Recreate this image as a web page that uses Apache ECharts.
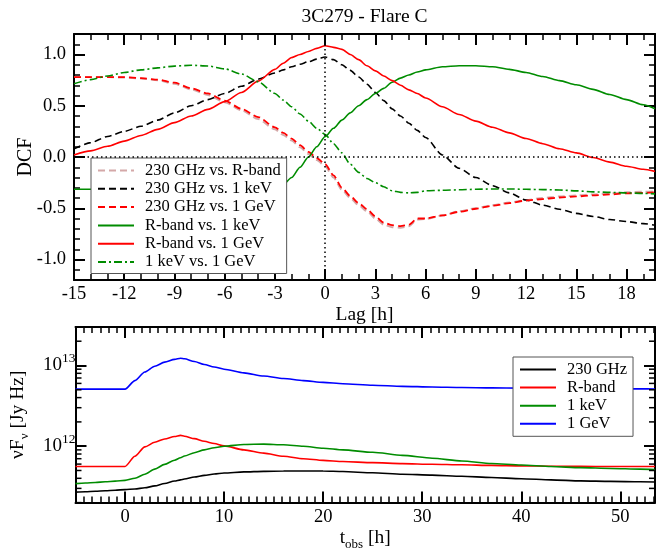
<!DOCTYPE html>
<html><head><meta charset="utf-8">
<script src="https://cdn.jsdelivr.net/npm/echarts@6/dist/echarts.min.js"></script>
<style>html,body{margin:0;padding:0;background:#fff}#c{width:660px;height:552px}</style>
</head><body><div id="c"></div>
<script>
// ---------- data: top panel (DCF vs lag) ----------
const lag = [-15,-14,-13,-12,-11,-10,-9,-8,-7,-6,-5,-4,-3,-2.5,-2,-1.5,-1,-0.5,0,0.5,1,1.5,2,2.5,3,3.5,4,4.5,5,5.5,6,7,8,9,10,11,12,13,14,15,16,17,18,19,19.7];
const dcf230vsR = [0.78,0.78,0.78,0.775,0.765,0.75,0.715,0.66,0.605,0.535,0.455,0.37,0.27,0.215,0.16,0.095,0.03,-0.03,-0.09,-0.2,-0.32,-0.4,-0.47,-0.53,-0.6,-0.66,-0.685,-0.69,-0.675,-0.61,-0.605,-0.57,-0.53,-0.5,-0.47,-0.445,-0.42,-0.4,-0.385,-0.375,-0.365,-0.355,-0.345,-0.34,-0.335];
const dcf230vsKeV = [0.08,0.14,0.2,0.25,0.3,0.36,0.43,0.5,0.56,0.62,0.69,0.76,0.82,0.85,0.88,0.905,0.93,0.955,0.975,0.95,0.9,0.845,0.78,0.71,0.63,0.55,0.47,0.4,0.33,0.26,0.19,0.02,-0.11,-0.2,-0.28,-0.35,-0.42,-0.47,-0.51,-0.55,-0.58,-0.61,-0.63,-0.65,-0.665];
const dcf230vsGeV = [0.78,0.78,0.78,0.78,0.77,0.755,0.725,0.67,0.62,0.55,0.47,0.39,0.29,0.235,0.18,0.115,0.05,-0.01,-0.07,-0.18,-0.3,-0.38,-0.45,-0.51,-0.58,-0.64,-0.665,-0.675,-0.66,-0.6,-0.6,-0.57,-0.535,-0.505,-0.475,-0.45,-0.425,-0.41,-0.395,-0.385,-0.375,-0.365,-0.355,-0.35,-0.345];
const dcfRvsKeV = [-0.315,-0.315,-0.314,-0.313,-0.312,-0.312,-0.311,-0.31,-0.31,-0.309,-0.308,-0.306,-0.3,-0.27,-0.2,-0.1,0.0,0.1,0.2,0.28,0.36,0.43,0.5,0.56,0.62,0.67,0.73,0.77,0.8,0.83,0.85,0.88,0.89,0.89,0.88,0.855,0.825,0.785,0.745,0.705,0.66,0.61,0.56,0.51,0.47];
const dcfRvsGeV = [0.02,0.06,0.105,0.155,0.21,0.27,0.335,0.4,0.465,0.54,0.63,0.74,0.855,0.915,0.97,1.0,1.03,1.06,1.085,1.07,1.05,1.0,0.95,0.89,0.84,0.79,0.745,0.7,0.655,0.62,0.575,0.49,0.415,0.35,0.29,0.235,0.18,0.13,0.08,0.04,-0.005,-0.05,-0.09,-0.12,-0.14];
const dcfKeVvsGeV = [0.715,0.755,0.79,0.825,0.85,0.87,0.887,0.895,0.888,0.86,0.81,0.735,0.62,0.555,0.49,0.42,0.35,0.28,0.22,0.13,0.04,-0.07,-0.15,-0.21,-0.25,-0.29,-0.33,-0.345,-0.35,-0.345,-0.33,-0.325,-0.32,-0.315,-0.312,-0.312,-0.315,-0.318,-0.322,-0.33,-0.34,-0.345,-0.35,-0.355,-0.36];
const topNames = ['230 GHz vs. R-band','230 GHz vs. 1 keV','230 GHz vs. 1 GeV','R-band vs. 1 keV','R-band vs. 1 GeV','1 keV vs. 1 GeV'];

// ---------- data: bottom panel (light curves) ----------
const tObs = [-5,-4,-3,-2,-1,0,1,2,3,4,5,5.6,6,7,8,9,10,12,14,16,18,20,22,25,28,31,34,37,40,43,46,49,52,53.5];
const flux230 = [2.7e11,2.73e11,2.76e11,2.8e11,2.85e11,2.9e11,2.95e11,3.05e11,3.22e11,3.45e11,3.7e11,3.83e11,3.92e11,4.15e11,4.35e11,4.52e11,4.65e11,4.8e11,4.88e11,4.92e11,4.93e11,4.92e11,4.85e11,4.68e11,4.5e11,4.38e11,4.24e11,4.1e11,3.95e11,3.83e11,3.72e11,3.66e11,3.62e11,3.6e11];
const fluxR = [5.6e11,5.6e11,5.6e11,5.6e11,5.6e11,5.6e11,7.5e11,9.8e11,1.12e12,1.23e12,1.32e12,1.36e12,1.33e12,1.24e12,1.15e12,1.08e12,1.01e12,9.0e11,8.2e11,7.5e11,7.0e11,6.67e11,6.45e11,6.25e11,6.08e11,5.98e11,5.88e11,5.78e11,5.7e11,5.65e11,5.62e11,5.6e11,5.6e11,5.6e11];
const fluxKeV = [3.44e11,3.5e11,3.55e11,3.62e11,3.69e11,3.77e11,4.0e11,4.5e11,5.2e11,5.95e11,6.7e11,7.2e11,7.55e11,8.3e11,9.0e11,9.55e11,1.0e12,1.05e12,1.06e12,1.04e12,1.0e12,9.45e11,9.0e11,8.4e11,7.7e11,7.1e11,6.55e11,6.1e11,5.85e11,5.6e11,5.42e11,5.3e11,5.2e11,5.15e11];
const fluxGeV = [5.1e12,5.1e12,5.1e12,5.1e12,5.1e12,5.1e12,6.5e12,8.3e12,9.8e12,1.1e13,1.19e13,1.23e13,1.21e13,1.12e13,1.03e13,9.6e12,9.0e12,8.1e12,7.4e12,6.9e12,6.5e12,6.17e12,5.95e12,5.7e12,5.52e12,5.42e12,5.34e12,5.28e12,5.24e12,5.2e12,5.17e12,5.15e12,5.13e12,5.12e12];
const bottomNames = ['230 GHz','R-band','1 keV','1 GeV'];

// ---------- tick positions ----------
const lagMajorTicks = [-15,-12,-9,-6,-3,0,3,6,9,12,15,18];
const lagMinorTicks = [-14,-13,-11,-10,-8,-7,-5,-4,-2,-1,1,2,4,5,7,8,10,11,13,14,16,17,19];
const dcfMajorTicks = [-1,-0.5,0,0.5,1];
const dcfMinorTicks = [-1.2,-1.1,-0.9,-0.8,-0.7,-0.6,-0.4,-0.3,-0.2,-0.1,0.1,0.2,0.3,0.4,0.6,0.7,0.8,0.9,1.1,1.2];
const tMajorTicks = [0,10,20,30,40,50];
const tMinorTicks = [];
for (let k = -6; k <= 64; k++) { if (k % 12 !== 0) tMinorTicks.push(k * 10 / 12); }
const fluxMinorTicks = [2e11,3e11,4e11,5e11,6e11,7e11,8e11,9e11,2e12,3e12,4e12,5e12,6e12,7e12,8e12,9e12,2e13,3e13];

const FONT = 'Liberation Serif';
const LAG_MIN = -15, LAG_MAX = 19.7, DCF_MIN = -1.2, DCF_MAX = 1.2;
const T_MIN = -5, T_MAX = 53.5, F_MIN = 2e11, F_MAX = 3e13;
const MAJ = 11, MIN = 6;

const zip = (xs, ys) => xs.map((x, i) => [x, ys[i]]);
const line = { show: true, onZero: false, lineStyle: { color: '#000', width: 2 } };
const noLine = { show: false, onZero: false };
function tick(len, vals, w) {
  const t = { show: true, inside: true, length: len, lineStyle: { color: '#000', width: w || 2 } };
  if (vals) t.customValues = vals;
  return t;
}
const labelStyle = { fontFamily: FONT, fontSize: 18.5, color: '#000' };

function valAx(gridIndex, position, min, max, axisLine, axisTick, axisLabel, extra) {
  return Object.assign({ type: 'value', gridIndex, position, min, max, axisLine, axisTick,
    axisLabel: axisLabel || { show: false }, splitLine: { show: false } }, extra || {});
}

const xAxis = [
  valAx(0, 'bottom', LAG_MIN, LAG_MAX, line, tick(MAJ, lagMajorTicks),
    Object.assign({ customValues: lagMajorTicks, margin: 5 }, labelStyle),
    { name: 'Lag [h]', nameLocation: 'middle', nameGap: 22, nameTextStyle: { fontFamily: FONT, fontSize: 19.5, color: '#000' } }),
  valAx(0, 'bottom', LAG_MIN, LAG_MAX, noLine, tick(MIN, lagMinorTicks, 1.5)),
  valAx(0, 'top', LAG_MIN, LAG_MAX, line, tick(MAJ, lagMajorTicks)),
  valAx(0, 'top', LAG_MIN, LAG_MAX, noLine, tick(MIN, lagMinorTicks, 1.5)),
  valAx(1, 'bottom', T_MIN, T_MAX, line, tick(MAJ, tMajorTicks),
    Object.assign({ customValues: tMajorTicks, margin: 5 }, labelStyle),
    { name: 't{sub|obs} [h]', nameLocation: 'middle', nameGap: 20,
      nameTextStyle: { fontFamily: FONT, fontSize: 19.5, color: '#000',
        rich: { sub: { fontFamily: FONT, fontSize: 13, color: '#000', padding: [14, 0, 0, 0], verticalAlign: 'bottom' } } } }),
  valAx(1, 'bottom', T_MIN, T_MAX, noLine, tick(MIN, tMinorTicks, 1.5)),
  valAx(1, 'top', T_MIN, T_MAX, line, tick(MAJ, tMajorTicks)),
  valAx(1, 'top', T_MIN, T_MAX, noLine, tick(MIN, tMinorTicks, 1.5))
];

const fluxLabel = {
  show: true, margin: 0, showMinLabel: false, showMaxLabel: false,
  fontFamily: FONT, fontSize: 19, color: '#000',
  formatter: v => { const e = Math.log10(v); return Math.abs(e - Math.round(e)) < 1e-6 ? '10{sup|' + Math.round(e) + '}' : ''; },
  rich: { sup: { fontFamily: FONT, fontSize: 13.5, color: '#000', padding: [0, 0, 14, 0], verticalAlign: 'top' } }
};

const yAxis = [
  valAx(0, 'left', DCF_MIN, DCF_MAX, line, tick(MAJ, dcfMajorTicks),
    Object.assign({ customValues: dcfMajorTicks, margin: 8, formatter: v => v.toFixed(1) }, labelStyle),
    { name: 'DCF', nameLocation: 'middle', nameGap: 38, nameRotate: 90, nameMoveOverlap: false,
      nameTextStyle: { fontFamily: FONT, fontSize: 20, color: '#000' } }),
  valAx(0, 'left', DCF_MIN, DCF_MAX, noLine, tick(MIN, dcfMinorTicks, 1.5)),
  valAx(0, 'right', DCF_MIN, DCF_MAX, line, tick(MAJ, dcfMajorTicks)),
  valAx(0, 'right', DCF_MIN, DCF_MAX, noLine, tick(MIN, dcfMinorTicks, 1.5)),
  { type: 'log', logBase: 10, gridIndex: 1, position: 'left', min: F_MIN, max: F_MAX,
    axisLine: line, axisTick: tick(MAJ), axisLabel: fluxLabel, splitLine: { show: false },
    name: 'νF{sub|ν} [Jy Hz]', nameLocation: 'middle', nameGap: 44, nameRotate: 90,
    nameTextStyle: { fontFamily: FONT, fontSize: 19.5, color: '#000',
      rich: { sub: { fontFamily: FONT, fontSize: 13, color: '#000', padding: [14, 0, 0, 0], verticalAlign: 'bottom' } } } },
  { type: 'log', logBase: 10, gridIndex: 1, position: 'right', min: F_MIN, max: F_MAX,
    axisLine: line, axisTick: tick(MAJ), axisLabel: { show: false }, splitLine: { show: false } }
];

function topSeries(name, data, color, type, width) {
  return { name, type: 'line', xAxisIndex: 0, yAxisIndex: 0, data: zip(lag, data),
    symbol: 'none', showSymbol: false, smooth: 0.25, smoothMonotone: 'x',
    lineStyle: { color, width: width || 1.6, type }, itemStyle: { color } };
}
function botSeries(name, data, color) {
  return { name, type: 'line', xAxisIndex: 4, yAxisIndex: 4, data: zip(tObs, data),
    symbol: 'none', showSymbol: false, smooth: 0.25, smoothMonotone: 'x',
    lineStyle: { color, width: 1.6 }, itemStyle: { color } };
}

const GREEN = '#008c00', PINK = '#d4a8a8';
const series = [
  Object.assign(topSeries(topNames[0], dcf230vsR, PINK, [7, 4], 2), {
    markLine: { silent: true, symbol: ['none', 'none'], label: { show: false },
      lineStyle: { type: [1.5, 3], color: '#000', width: 1.5 }, emphasis: { disabled: true },
      data: [{ yAxis: 0 }, { xAxis: 0 }] } }),
  topSeries(topNames[1], dcf230vsKeV, '#000', [7, 4]),
  topSeries(topNames[2], dcf230vsGeV, '#ff0000', [7, 4], 1.8),
  topSeries(topNames[3], dcfRvsKeV, GREEN, 'solid'),
  topSeries(topNames[4], dcfRvsGeV, '#ff0000', 'solid'),
  topSeries(topNames[5], dcfKeVvsGeV, GREEN, [8, 3, 2, 3]),
  botSeries(bottomNames[0], flux230, '#000'),
  botSeries(bottomNames[1], fluxR, '#ff0000'),
  botSeries(bottomNames[2], fluxKeV, GREEN),
  botSeries(bottomNames[3], fluxGeV, '#0000ff'),
  { type: 'custom', xAxisIndex: 4, yAxisIndex: 4, silent: true, z: 5,
    data: fluxMinorTicks.map(v => [T_MIN, v]), encode: { x: 0, y: 1 },
    renderItem: (params, api) => {
      const l = api.coord([T_MIN, api.value(1)]);
      const r = api.coord([T_MAX, api.value(1)]);
      const st = { stroke: '#000', lineWidth: 1.5 };
      return { type: 'group', children: [
        { type: 'line', shape: { x1: l[0], y1: l[1], x2: l[0] + MIN, y2: l[1] }, style: st },
        { type: 'line', shape: { x1: r[0] - MIN, y1: r[1], x2: r[0], y2: r[1] }, style: st } ] };
    } }
];

const legendText = { fontFamily: FONT, fontSize: 16.5, color: '#000', lineHeight: 16, padding: [0, 0, 0, 6] };
const legendCommon = { orient: 'vertical', itemWidth: 36, itemHeight: 16, backgroundColor: '#fff',
  borderColor: '#555', borderWidth: 1, selectedMode: false, textStyle: legendText, itemStyle: { opacity: 0 } };
const option = {
  animation: false,
  backgroundColor: '#fff',
  grid: [
    { left: 74, top: 34, width: 581, height: 246 },
    { left: 74, top: 327, width: 581, height: 177 }
  ],
  xAxis, yAxis, series,
  legend: [
    Object.assign({ data: topNames, left: 91, top: 158, padding: [4, 6, 3, 6], itemGap: 1.3 }, legendCommon),
    Object.assign({ data: bottomNames, left: 513, top: 357, padding: [4, 6, 4, 6], itemGap: 1.1 }, legendCommon)
  ],
  graphic: [
    { type: 'text', x: 364.5, y: 17, style: { text: '3C279 - Flare C', textAlign: 'center', textVerticalAlign: 'middle',
      font: '19.5px "Liberation Serif"', fill: '#000' } }
  ]
};
const chart = echarts.init(document.getElementById('c'), null, { renderer: 'canvas' });
chart.setOption(option);
</script>
</body></html>
